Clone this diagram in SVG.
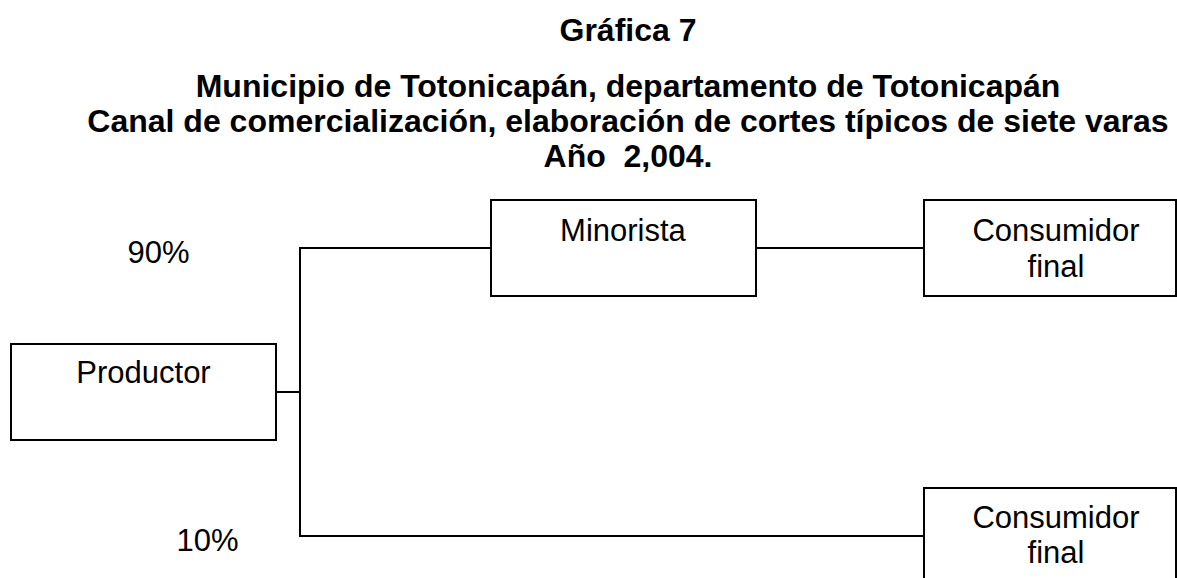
<svg xmlns="http://www.w3.org/2000/svg" width="1177" height="578" viewBox="0 0 1177 578">
<style>
.t{font-family:"Liberation Sans",Arial,sans-serif;font-weight:bold;font-size:32px;fill:#000;text-anchor:middle}
.n{font-family:"Liberation Sans",Arial,sans-serif;font-size:31px;fill:#000;text-anchor:middle}
.box{fill:#fff;stroke:#000;stroke-width:2}
.c{fill:none;stroke:#000;stroke-width:2}
</style>
<rect width="1177" height="578" fill="#fff"/>
<g id="title">
<text class="t" x="628" y="41">Gráfica 7</text>
<text class="t" x="628" y="97">Municipio de Totonicapán, departamento de Totonicapán</text>
<text class="t" x="628" y="132">Canal de comercialización, elaboración de cortes típicos de siete varas</text>
<text class="t" x="628" y="167" xml:space="preserve">Año  2,004.</text>
</g>
<g id="connectors">
<polyline class="c" points="276,392 300,392"/>
<polyline class="c" points="491,248 300,248 300,536 924,536"/>
<polyline class="c" points="756,248 924,248"/>
</g>
<g id="productor">
<rect class="box" x="11" y="344" width="265" height="96"/>
<text class="n" x="143.5" y="383">Productor</text>
</g>
<g id="minorista">
<rect class="box" x="491" y="200" width="265" height="96"/>
<text class="n" x="623" y="241">Minorista</text>
</g>
<g id="consumidor1">
<rect class="box" x="924" y="200" width="252" height="96"/>
<text class="n" x="1056" y="241">Consumidor</text>
<text class="n" x="1056" y="277">final</text>
</g>
<g id="consumidor2">
<rect class="box" x="924" y="488" width="252" height="100"/>
<text class="n" x="1056" y="528">Consumidor</text>
<text class="n" x="1056" y="563">final</text>
</g>
<g id="labels">
<text class="n" x="158.5" y="263">90%</text>
<text class="n" x="207.5" y="551">10%</text>
</g>
</svg>
